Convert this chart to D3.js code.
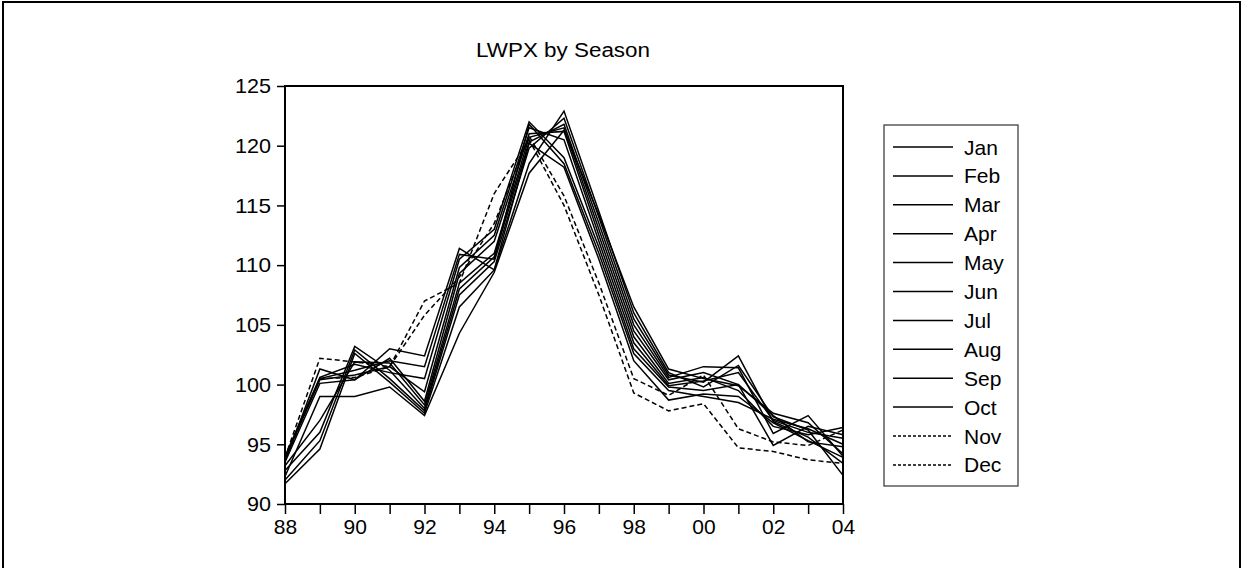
<!DOCTYPE html>
<html lang="en">
<head>
<meta charset="utf-8">
<title>LWPX by Season</title>
<script src="https://cdn.jsdelivr.net/npm/d3@7"></script>
<style>
  body { margin: 0; background: #fff; }
  text { font-family: "Liberation Sans", Arial, sans-serif; fill: #000; }
</style>
</head>
<body>
<script>
// years 1988..2004, labelled by two digits
var years = d3.range(1988, 2005);
var months = ["Jan","Feb","Mar","Apr","May","Jun","Jul","Aug","Sep","Oct","Nov","Dec"];
var dashedMonths = ["Nov","Dec"];
var yTicks = [90, 95, 100, 105, 110, 115, 120, 125];

var jan = [92.3, 99.0, 99.0, 99.8, 97.4, 104.3, 109.4, 117.7, 121.3, 114.2, 106.5, 101.3, 100.5, 99.9, 97.6, 96.8, 94.2];
var feb = [91.7, 94.6, 102.6, 100.2, 97.6, 106.5, 109.6, 118.5, 122.9, 114.5, 106.0, 101.0, 99.8, 101.6, 97.3, 96.2, 92.4];
var mar = [92.0, 95.3, 102.9, 100.5, 97.8, 107.5, 110.3, 119.8, 122.3, 114.0, 105.5, 100.8, 100.2, 102.4, 96.9, 95.6, 93.4];
var apr = [92.8, 96.0, 103.2, 101.2, 98.0, 108.0, 110.7, 120.3, 121.8, 113.5, 105.0, 100.6, 101.5, 101.4, 95.9, 97.4, 94.0];
var may = [93.2, 97.0, 101.9, 101.8, 98.3, 108.5, 111.0, 120.7, 121.5, 113.0, 104.5, 100.4, 101.0, 100.0, 94.9, 96.5, 95.8];
var jun = [93.5, 100.1, 100.4, 102.2, 98.6, 109.3, 112.0, 121.0, 121.2, 112.5, 104.0, 100.1, 100.6, 99.5, 96.5, 95.8, 96.4];
var jul = [93.8, 100.4, 100.8, 101.5, 99.4, 109.8, 112.5, 121.5, 120.5, 112.0, 103.5, 99.9, 100.3, 101.0, 97.0, 96.0, 95.5];
var aug = [94.0, 100.6, 101.7, 101.0, 100.5, 110.5, 113.0, 122.0, 119.0, 111.5, 103.0, 99.8, 99.5, 100.0, 97.4, 95.2, 94.8];
var sep = [93.9, 100.5, 101.2, 102.0, 101.5, 110.9, 110.5, 121.8, 118.5, 111.0, 102.6, 99.5, 99.0, 98.5, 97.1, 96.3, 95.0];
var oct = [93.6, 101.3, 100.4, 103.0, 102.4, 111.4, 109.6, 120.2, 118.2, 110.5, 102.0, 98.7, 99.2, 99.0, 96.8, 95.3, 93.9];
var nov = [93.7, 100.5, 100.6, 101.5, 105.8, 109.0, 113.5, 120.8, 115.8, 108.5, 100.5, 99.1, 100.8, 96.3, 95.2, 94.9, 96.2];
var dec = [93.9, 102.2, 101.9, 101.5, 107.0, 108.5, 116.0, 120.5, 115.0, 107.5, 99.3, 97.8, 98.4, 94.7, 94.4, 93.7, 93.4];

var seriesValues = [jan, feb, mar, apr, may, jun, jul, aug, sep, oct, nov, dec];

var W = 1244, H = 568;
var plot = {left: 285, top: 86, right: 843, bottom: 504};

var svg = d3.select("body").append("svg")
  .attr("width", W).attr("height", H);

// outer frame
svg.append("rect")
  .attr("x", 3).attr("y", 2).attr("width", 1237).attr("height", 620)
  .attr("fill", "none").attr("stroke", "#000").attr("stroke-width", 2);

var x = d3.scaleLinear().domain([1988, 2004]).range([plot.left, plot.right]);
var y = d3.scaleLinear().domain([90, 125]).range([plot.bottom, plot.top]);

// title
svg.append("text")
  .attr("x", 563).attr("y", 57)
  .attr("text-anchor", "middle")
  .style("font-size", "20px")
  .attr("textLength", 174).attr("lengthAdjust", "spacingAndGlyphs")
  .text("LWPX by Season");

// series
var line = d3.line()
  .x(function(d, i) { return x(years[i]); })
  .y(function(d) { return y(d); });

svg.append("g").selectAll("path")
  .data(seriesValues)
  .enter().append("path")
  .attr("d", line)
  .attr("fill", "none")
  .attr("stroke", "#000")
  .attr("stroke-width", 1.5)
  .attr("stroke-dasharray", function(d, i) { return dashedMonths.indexOf(months[i]) >= 0 ? "5,3" : null; });

// plot frame
svg.append("rect")
  .attr("x", plot.left).attr("y", plot.top)
  .attr("width", plot.right - plot.left).attr("height", plot.bottom - plot.top)
  .attr("fill", "none").attr("stroke", "#000").attr("stroke-width", 2);

// y axis
var yAxis = d3.axisLeft(y).tickValues(yTicks).tickSize(8).tickPadding(6);
var gy = svg.append("g").attr("transform", "translate(" + plot.left + ",0)").call(yAxis);
gy.select(".domain").remove();
gy.selectAll("line").attr("stroke-width", 1.5);
gy.selectAll("text").style("font-size", "21px").attr("font-family", null)
  .attr("textLength", 36).attr("lengthAdjust", "spacingAndGlyphs");
gy.selectAll(".tick").filter(function(d) { return d < 100; }).select("text").attr("textLength", 24);

// x axis
var xAxis = d3.axisBottom(x).tickValues(years).tickSize(10).tickPadding(5)
  .tickFormat(function(d) { return d % 2 === 0 ? String(d).slice(2) : ""; });
var gx = svg.append("g").attr("transform", "translate(0," + plot.bottom + ")").call(xAxis);
gx.select(".domain").remove();
gx.selectAll("line").attr("stroke-width", 1.5);
gx.selectAll("text").style("font-size", "21px").attr("font-family", null);

// legend
var leg = {x: 884, y: 125, w: 134, h: 361, first: 147, step: 28.9};
var lg = svg.append("g");
lg.append("rect")
  .attr("x", leg.x).attr("y", leg.y).attr("width", leg.w).attr("height", leg.h)
  .attr("fill", "#fff").attr("stroke", "#333").attr("stroke-width", 1.2);

var items = lg.selectAll("g.item").data(months).enter().append("g")
  .attr("transform", function(d, i) { return "translate(0," + (leg.first + i * leg.step) + ")"; });
items.append("line")
  .attr("x1", 893).attr("x2", 953)
  .attr("stroke", "#000").attr("stroke-width", 1.5)
  .attr("stroke-dasharray", function(d) { return dashedMonths.indexOf(d) >= 0 ? "3,2" : null; });
items.append("text")
  .attr("x", 964).attr("dy", "0.36em")
  .style("font-size", "21px")
  .text(function(d) { return d; });
</script>
</body>
</html>
